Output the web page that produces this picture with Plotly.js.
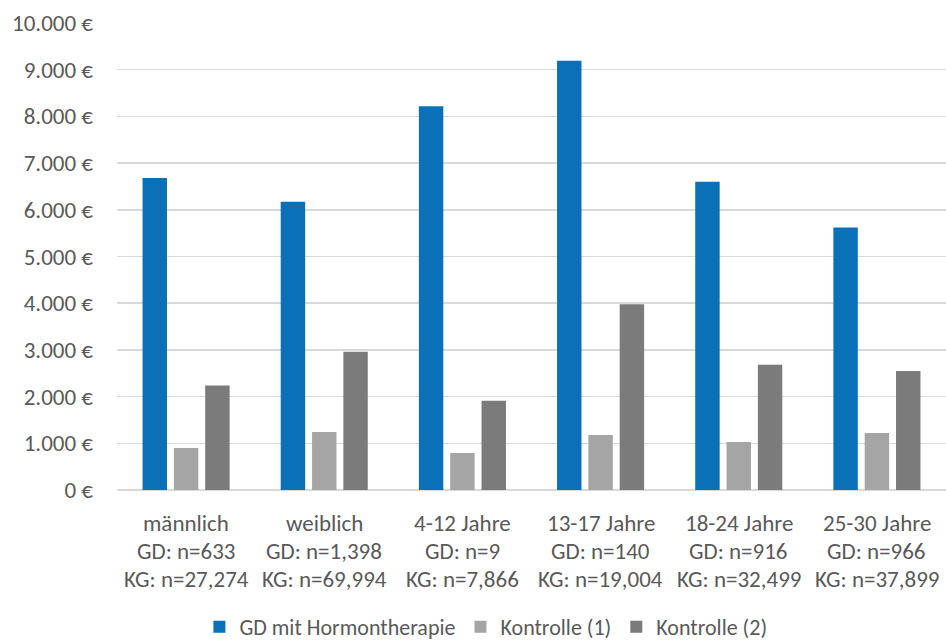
<!DOCTYPE html>
<html>
<head>
<meta charset="utf-8">
<script src="https://cdn.plot.ly/plotly-3.0.1.min.js"></script>
<style>html,body{margin:0;padding:0;background:#fff;}#chart{width:946px;height:643px;}</style>
</head>
<body>
<div id="chart"></div>
<script>
const categories = ["männlich", "weiblich", "4-12 Jahre", "13-17 Jahre", "18-24 Jahre", "25-30 Jahre"];
const gdCounts = ["GD: n=633", "GD: n=1,398", "GD: n=9", "GD: n=140", "GD: n=916", "GD: n=966"];
const kgCounts = ["KG: n=27,274", "KG: n=69,994", "KG: n=7,866", "KG: n=19,004", "KG: n=32,499", "KG: n=37,899"];
const seriesNames = ["GD mit Hormontherapie", "Kontrolle (1)", "Kontrolle (2)"];
const gdHormon = [6680, 6170, 8220, 9190, 6600, 5620];
const kontrolle1 = [900, 1240, 790, 1180, 1030, 1220];
const kontrolle2 = [2240, 2960, 1910, 3980, 2680, 2550];
const yTicks = [0, 1000, 2000, 3000, 4000, 5000, 6000, 7000, 8000, 9000, 10000];
const yTickText = ["0 €", "1.000 €", "2.000 €", "3.000 €", "4.000 €", "5.000 €", "6.000 €", "7.000 €", "8.000 €", "9.000 €", "10.000 €"];

const font = "Carlito, Lato, Noto Sans, sans-serif";
const txtColor = "#595959";
const colors = ["#0a70b7", "#a5a5a5", "#7b7b7b"];
const vals = [gdHormon, kontrolle1, kontrolle2];
const fs = 23;

const traces = vals.map((v, i) => ({
  type: "bar", x: categories, y: v, name: seriesNames[i],
  marker: {color: colors[i]}, hoverinfo: "x+y"
}));

const annotations = [];
[categories, gdCounts, kgCounts].forEach((arr, j) => {
  arr.forEach((t, i) => {
    annotations.push({
      x: categories[i], xref: "x", y: 0, yref: "paper",
      yshift: -(33 + 28 * j), yanchor: "middle", xanchor: "center",
      text: t, showarrow: false, font: {family: font, size: fs, color: txtColor}
    });
  });
});

const layout = {
  width: 946, height: 643,
  margin: {l: 117, r: 0, t: 23, b: 153, autoexpand: false},
  paper_bgcolor: "#fff", plot_bgcolor: "#fff",
  barmode: "group", bargap: 0.32, bargroupgap: 0.22,
  font: {family: font, size: fs, color: txtColor},
  xaxis: {type: "category", showticklabels: false, showgrid: false, zeroline: false,
          showline: false, ticks: ""},
  yaxis: {range: [0, 10000], tickmode: "array", tickvals: yTicks, ticktext: yTickText,
          showgrid: true, gridcolor: "#d9d9d9", gridwidth: 1.5, zeroline: true,
          zerolinecolor: "#d9d9d9", zerolinewidth: 1.5, showline: false, ticks: "",
          ticklabelstandoff: 23, tickfont: {family: font, size: fs, color: txtColor}},
  legend: {orientation: "h", x: 0.445, xanchor: "center", y: -0.293, yanchor: "middle",
           font: {family: font, size: 22, color: txtColor}, itemwidth: 30, traceorder: "normal",
           bgcolor: "rgba(0,0,0,0)"},
  annotations: annotations,
  showlegend: true
};

Plotly.newPlot("chart", traces, layout, {displayModeBar: false, staticPlot: true});
</script>
</body>
</html>
